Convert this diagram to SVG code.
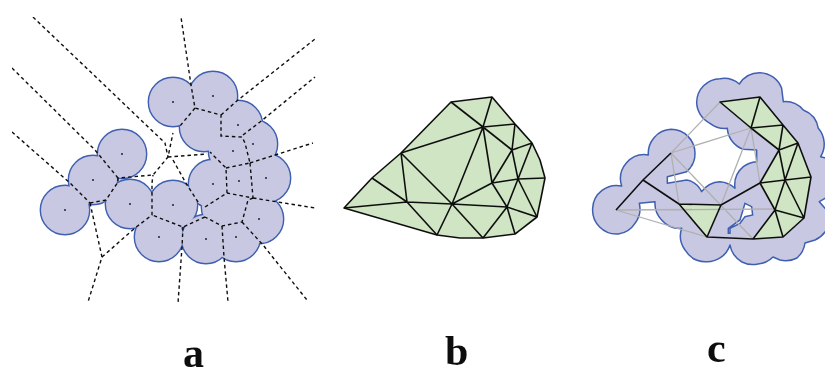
<svg xmlns="http://www.w3.org/2000/svg" width="825" height="369" viewBox="0 0 825 369">
<style>
.o{fill:#3f5fb0;stroke:#3f5fb0;stroke-width:2.8}
.f{fill:#c8c8e2}
.u{fill:#c8c8e2;stroke:#3f5fb0;stroke-width:1.5;stroke-linejoin:round}
.w{fill:#fff;stroke:#3f5fb0;stroke-width:1.5}
.d{fill:none;stroke:#111;stroke-width:1.4;stroke-dasharray:3.5 3}
.s{fill:#111}
.g{fill:#cfe5c3;stroke:none}
.e{fill:none;stroke:#111;stroke-width:1.6;stroke-linejoin:round}
.h{fill:none;stroke:#b0b0b0;stroke-width:1.3}
text{font-family:"Liberation Serif",serif;font-weight:bold;font-size:42px;fill:#111}
</style>
<defs>
<filter id="soft" x="0" y="0" width="100%" height="100%"><feGaussianBlur stdDeviation="0.3"/></filter>
<g id="discs"><circle cx="65" cy="210" r="24"/><circle cx="93" cy="180" r="24"/><circle cx="122" cy="154" r="24"/><circle cx="130" cy="204" r="24"/><circle cx="173" cy="205" r="24"/><circle cx="159" cy="237" r="24"/><circle cx="206" cy="239" r="24"/><circle cx="236" cy="237" r="24"/><circle cx="259" cy="219" r="24"/><circle cx="266" cy="178" r="24"/><circle cx="239" cy="181" r="24"/><circle cx="213" cy="184" r="24"/><circle cx="233" cy="151" r="24"/><circle cx="253" cy="144" r="24"/><circle cx="238" cy="125" r="24"/><circle cx="213" cy="96" r="24"/><circle cx="173" cy="102" r="24"/><circle cx="204" cy="127" r="24"/><circle cx="226" cy="207" r="24"/></g>
</defs>
<g filter="url(#soft)">
<g id="panel-a">
<use href="#discs" class="o"/><use href="#discs" class="f"/>
<g class="s"><circle cx="65" cy="210" r=".9"/><circle cx="93" cy="180" r=".9"/><circle cx="122" cy="154" r=".9"/><circle cx="130" cy="204" r=".9"/><circle cx="173" cy="205" r=".9"/><circle cx="159" cy="237" r=".9"/><circle cx="206" cy="239" r=".9"/><circle cx="236" cy="237" r=".9"/><circle cx="259" cy="219" r=".9"/><circle cx="266" cy="178" r=".9"/><circle cx="239" cy="181" r=".9"/><circle cx="213" cy="184" r=".9"/><circle cx="233" cy="151" r=".9"/><circle cx="253" cy="144" r=".9"/><circle cx="238" cy="125" r=".9"/><circle cx="213" cy="96" r=".9"/><circle cx="173" cy="102" r=".9"/></g>
<g id="connectors-a" class="d">
<path d="M33 17L165 143L168 157"/>
<path d="M12 68L95 150L118 178"/>
<path d="M12 132L70 183L90 203"/>
<path d="M90 203L106 200L118 182L118 178L153 175L168 157L173 133"/>
<path d="M90 203L102 257L88 302"/>
<path d="M102 257L135 228L152 215L152 183L153 175"/>
<path d="M168 157L207 154"/>
<path d="M173 160L187 185L200 205"/>
<path d="M205 207L227 193L226 168L210 152"/>
<path d="M226 168L250 163L245 143L242 137L221 136L221 115L195 108L191 85L181 17"/>
<path d="M195 108L180 126"/>
<path d="M221 115L238 100L315 39"/>
<path d="M243 135L260 122L315 77"/>
<path d="M250 163L275 155L313 143"/>
<path d="M250 163L253 198L227 193"/>
<path d="M253 198L315 208"/>
<path d="M253 198L248 200L242 222L222 226L205 217"/>
<path d="M242 222L263 245L307 300"/>
<path d="M222 226L224 257L228 302"/>
<path d="M205 217L183 227L152 215"/>
<path d="M183 227L182 247L178 303"/>
</g>
</g>
<g id="panel-b">
<path class="g" d="M344 208L372 178L401 153L451 102L492 97L515 124L532 143L540 160L545 178L541 198L537 217L515 234L483 238L460 238L437 235Z"/>
<path class="e" d="M344 208L372 178L401 153L451 102L492 97L515 124L532 143L540 160L545 178L541 198L537 217L515 234L483 238L460 238L437 235Z"/>
<path class="e" d="M401 153L483 127M451 102L483 127M492 97L483 127M483 127L515 124M483 127L512 150M483 127L492 183M483 127L452 204M515 124L512 150M532 143L512 150M512 150L492 183M512 150L518 179M532 143L518 179M492 183L518 179L545 178M452 204L492 183L507 207M518 179L507 207M518 179L537 217M507 207L537 217M507 207L515 234M507 207L483 238M344 208L407 202L452 204L507 207M401 153L407 202M401 153L452 204M372 178L407 202L437 235M452 204L437 235M452 204L483 238"/>
</g>
<g id="panel-c">
<g transform="translate(580 60) scale(.3333)">
<path class="u" vector-effect="non-scaling-stroke" d="M125 378A72 72 0 0 1 205 285A72 72 0 0 1 273 208A72 72 0 0 1 345 280A72 72 0 0 1 320 335L262 350L262 370L320 360Q350 365 365 395A72 72 0 0 1 420 365A72 72 0 0 1 465 385A72 72 0 0 1 490 320A72 72 0 0 1 530 305L530 270L490 268A72 72 0 0 1 442 205A72 72 0 0 1 390 190A72 72 0 0 1 350 127A72 72 0 0 1 420 56A72 72 0 0 1 478 72A72 72 0 0 1 540 38A72 72 0 0 1 605 85L610 125A72 72 0 0 1 670 150A72 72 0 0 1 715 205A72 72 0 0 1 722 290L760 300L760 405L735 415L718 425L735 445L760 450L760 500L735 516A72 72 0 0 1 705 540L675 549A72 72 0 0 1 651 594A72 72 0 0 1 600 600L579 591A72 72 0 0 1 534 612A72 72 0 0 1 486 606A72 72 0 0 1 450 555A72 72 0 0 1 375 605A72 72 0 0 1 315 570A72 72 0 0 1 305 505A72 72 0 0 1 245 480A72 72 0 0 1 225 425L178 430A72 72 0 0 1 165 490A72 72 0 0 1 115 522A72 72 0 0 1 38 445A72 72 0 0 1 125 378Z"/>
<path class="w" vector-effect="non-scaling-stroke" d="M495 430L515 440L518 465L495 470L480 490L450 505L450 520L445 520L445 505L480 480Z"/>
</g>
<path class="g" d="M720 102L760 97L783 125L798 143L811 177L804 218L783 237L753 239L775 210L760 183L779 150L751 128Z"/>
<path class="g" d="M679 204L721 205L707 237Z"/>
<path class="h" d="M720 102L671 153L751 128L760 183M751 128L721 205M671 153L679 204M671 153L753 239M616 210L775 209M616 210L707 237"/>
<path class="e" d="M616 210L643 180L671 153M643 180L679 204L721 205L707 237L679 204M721 205L760 183M707 237L753 239L783 237L804 218L811 177L798 143L783 125L760 97L720 102L751 128L760 97M751 128L783 125L779 150L798 143L785 180L779 150L760 183L785 180L811 177M751 128L779 150M785 180L804 218L775 210L783 237M785 180L775 210L753 239M760 183L775 210"/>
</g>
<g id="labels">
<text x="183" y="367">a</text>
<text x="445" y="365">b</text>
<text x="707" y="362">c</text>
</g>
</g>
</svg>
